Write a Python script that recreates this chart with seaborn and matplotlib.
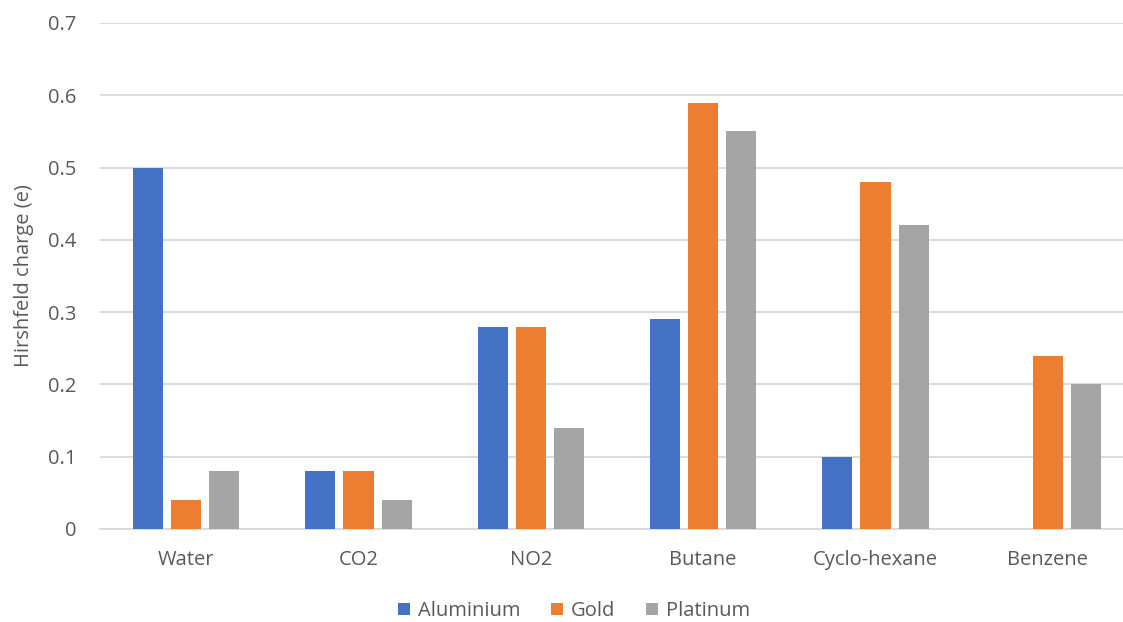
import matplotlib
matplotlib.use("Agg")
import matplotlib.pyplot as plt
import seaborn as sns
import pandas as pd
from matplotlib.patches import Patch

# Hirshfeld charges per molecule on each metal surface
molecules = ["Water", "CO2", "NO2", "Butane", "Cyclo-hexane", "Benzene"]
metals = ["Aluminium", "Gold", "Platinum"]
aluminium = [0.50, 0.08, 0.28, 0.29, 0.10, 0.00]
gold = [0.04, 0.08, 0.28, 0.59, 0.48, 0.24]
platinum = [0.08, 0.04, 0.14, 0.55, 0.42, 0.20]
yticks = [0, 0.1, 0.2, 0.3, 0.4, 0.5, 0.6, 0.7]
ytick_labels = ["0", "0.1", "0.2", "0.3", "0.4", "0.5", "0.6", "0.7"]

colors = ["#4472C4", "#ED7D31", "#A5A5A5"]
text_color = "#595959"
grid_color = "#D9D9D9"

df = pd.DataFrame({
    "Molecule": molecules * 3,
    "Metal": [m for m in metals for _ in molecules],
    "Charge": aluminium + gold + platinum,
})

sns.set_theme(style="white")
plt.rcParams["font.family"] = ["Open Sans", "DejaVu Sans"]

fig = plt.figure(figsize=(11.23, 6.22), dpi=100)
W, H = 1123, 622
left, right, top, bottom = 100, 1134, 23, 529
ax = fig.add_axes([left / W, 1 - bottom / H, (right - left) / W, (bottom - top) / H])

sns.barplot(data=df, x="Molecule", y="Charge", hue="Metal", order=molecules,
            hue_order=metals, palette=colors, width=0.663, gap=0.21,
            saturation=1, errorbar=None, legend=False, ax=ax, zorder=3,
            edgecolor="none", linewidth=0)

ax.set_xlim(-0.5, 5.5)
ax.set_ylim(0, 0.7)
ax.set_yticks(yticks)
ax.set_yticklabels(ytick_labels)
ax.yaxis.grid(True, color=grid_color, linewidth=1.3, zorder=0)
ax.set_axisbelow(True)
for s in ["top", "right", "left"]:
    ax.spines[s].set_visible(False)
ax.spines["bottom"].set_color(grid_color)
ax.spines["bottom"].set_linewidth(1.3)
ax.spines["bottom"].set_zorder(1)

fs = 14.5
ax.tick_params(axis="both", length=0, labelsize=fs, labelcolor=text_color)
ax.tick_params(axis="y", pad=17)
ax.tick_params(axis="x", pad=15)
ax.set_xlabel("")
ax.set_ylabel("Hirshfeld charge (e)", fontsize=fs, color=text_color)
ax.yaxis.set_label_coords((34 - left) / (right - left), 0.5)

handles = [Patch(facecolor=c, edgecolor="none") for c in colors]
fig.legend(handles, metals, loc="center", bbox_to_anchor=(574 / W, 1 - 611 / H),
           ncol=3, frameon=False, fontsize=fs, labelcolor=text_color,
           handlelength=0.6, handleheight=0.6, handletextpad=0.4, columnspacing=1.5,
           borderaxespad=0, borderpad=0.2)

fig.savefig("out.png", dpi=100, facecolor="white")
